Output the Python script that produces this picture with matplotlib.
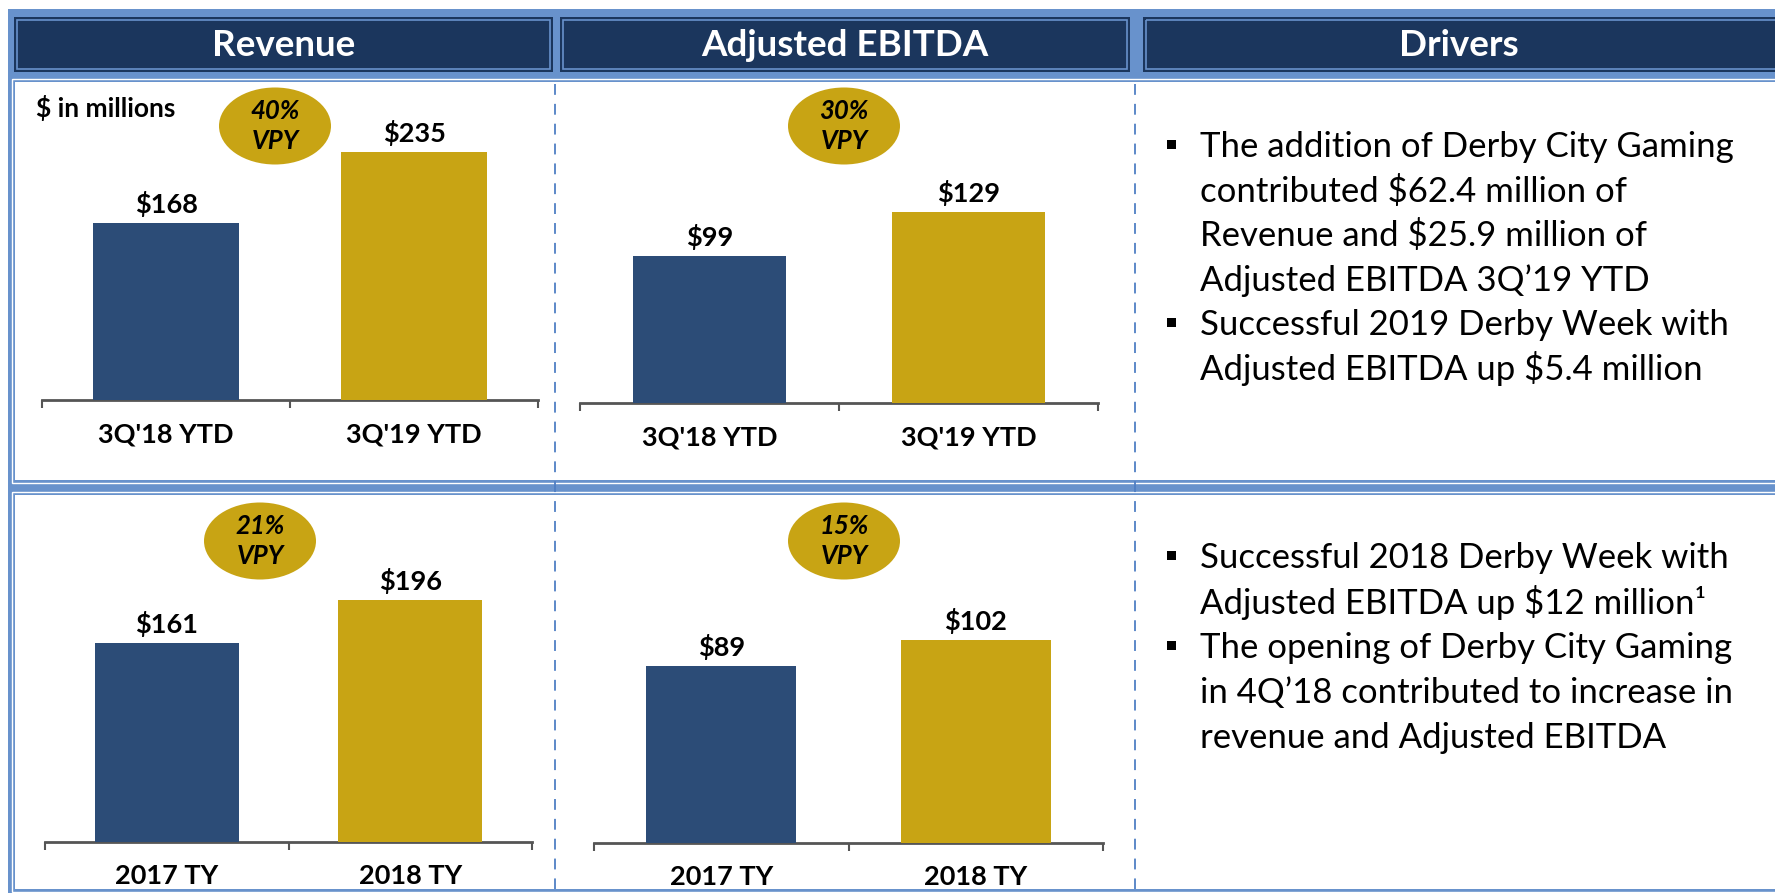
import matplotlib
matplotlib.use("Agg")
import matplotlib.pyplot as plt
from matplotlib.patches import Rectangle, Ellipse

# ---------------- data ----------------
headers = ["Revenue", "Adjusted EBITDA", "Drivers"]
unit_note = "$ in millions"

ytd_categories = ["3Q'18 YTD", "3Q'19 YTD"]
ty_categories = ["2017 TY", "2018 TY"]

revenue_ytd = [168, 235]
ebitda_ytd = [99, 129]
revenue_ty = [161, 196]
ebitda_ty = [89, 102]

vpy_revenue_ytd = "40%"
vpy_ebitda_ytd = "30%"
vpy_revenue_ty = "21%"
vpy_ebitda_ty = "15%"

drivers_top = [
    ["The addition of Derby City Gaming",
     "contributed $62.4 million of",
     "Revenue and $25.9 million of",
     "Adjusted EBITDA 3Q\u201919 YTD"],
    ["Successful 2019 Derby Week with",
     "Adjusted EBITDA up $5.4 million"],
]
drivers_bottom = [
    ["Successful 2018 Derby Week with",
     "Adjusted EBITDA up $12 million\u00b9"],
    ["The opening of Derby City Gaming",
     "in 4Q\u201918 contributed to increase in",
     "revenue and Adjusted EBITDA"],
]

# ---------------- style ----------------
W, H = 1775, 893
NAVY = "#1B365D"
LIGHT = "#6892CC"
BLUE = "#2C4C77"
GOLD = "#C8A414"
DASH = "#4F7FC4"
AXC = "#555555"
FONT = ["Lato", "DejaVu Sans"]
plt.rcParams["font.family"] = FONT

fig = plt.figure(figsize=(W / 100, H / 100), dpi=100)
fig.patch.set_facecolor("white")

bg = fig.add_axes([0, 0, 1, 1], zorder=0)
bg.set_xlim(0, W)
bg.set_ylim(H, 0)
bg.axis("off")

# frame
bg.add_patch(Rectangle((8, 9), W - 8, H - 9, facecolor=LIGHT, edgecolor="none"))
header_boxes = [(14, 553), (560, 1130), (1143, W + 5)]
for (x0, x1), title in zip(header_boxes, headers):
    bg.add_patch(Rectangle((x0, 17), x1 - x0, 55, facecolor=NAVY, edgecolor="none"))
    bg.add_patch(Rectangle((x0 + 3, 20), x1 - x0 - 6, 49, facecolor="none",
                           edgecolor=LIGHT, lw=1.2))
    bg.text((x0 + min(x1, W)) / 2, 45, title, color="white", fontsize=26.5,
            fontweight="bold", ha="center", va="center")

for (y0, y1) in [(82, 480), (495, 889)]:
    bg.add_patch(Rectangle((12, y0 - 3), W, y1 - y0 + 6, facecolor="none",
                           edgecolor="white", lw=1.0))
    bg.add_patch(Rectangle((15, y0), W, y1 - y0, facecolor="white", edgecolor="none"))

for x in [555, 1135]:
    bg.plot([x, x], [84, 889], color=DASH, lw=1.3, linestyle=(0, (6, 5)))

bg.text(36, 108, unit_note, fontsize=19, fontweight="bold", ha="left", va="center")


def vpy_bubble(cx, cy, pct):
    bg.add_patch(Ellipse((cx, cy), 112, 77, facecolor=GOLD, edgecolor="none"))
    bg.text(cx, cy - 15, pct, fontsize=18.5, fontweight="bold", style="italic",
            ha="center", va="center")
    bg.text(cx, cy + 15, "VPY", fontsize=18.5, fontweight="bold", style="italic",
            ha="center", va="center")


vpy_bubble(275, 126, vpy_revenue_ytd)
vpy_bubble(844, 126, vpy_ebitda_ytd)
vpy_bubble(260, 541, vpy_revenue_ty)
vpy_bubble(844, 541, vpy_ebitda_ty)


def chart(x0, x1, base_y, ymax, cats, vals):
    hpx = 300
    ax = fig.add_axes([x0 / W, 1 - base_y / H, (x1 - x0) / W, hpx / H], zorder=2)
    ax.set_facecolor("none")
    ax.bar([0, 1], vals, width=0.59, color=[BLUE, GOLD], zorder=3)
    ax.set_xlim(-0.5, 1.5)
    ax.set_ylim(0, ymax)
    for s in ["top", "left", "right"]:
        ax.spines[s].set_visible(False)
    ax.spines["bottom"].set_color(AXC)
    ax.spines["bottom"].set_linewidth(2.0)
    ax.set_yticks([])
    ax.set_xticks([-0.5, 0.5, 1.5])
    ax.set_xticklabels([])
    ax.tick_params(axis="x", length=6, width=1.5, color=AXC, direction="out")
    for i, (c, v) in enumerate(zip(cats, vals)):
        ax.annotate(f"${v}", xy=(i, v), xytext=(0, 13.5), textcoords="offset points",
                    ha="center", va="center", fontsize=19.5, fontweight="bold")
        ax.annotate(c, xy=(i, 0), xytext=(0, -24.5), textcoords="offset points",
                    ha="center", va="center", fontsize=19.5, fontweight="bold")
    return ax


chart(42, 538, 400, 300 / 1.055, ytd_categories, revenue_ytd)
chart(580, 1098, 403, 300 / 1.483, ytd_categories, ebitda_ytd)
chart(45, 532, 842, 300 / 1.236, ty_categories, revenue_ty)
chart(594, 1103, 843, 300 / 1.99, ty_categories, ebitda_ty)


def drivers(groups, y_start, step):
    y = y_start
    for g in groups:
        for j, line in enumerate(g):
            if j == 0:
                bg.add_patch(Rectangle((1167, y - 7), 9, 9, facecolor="black",
                                       edgecolor="none"))
            bg.text(1200, y, line, fontsize=25, ha="left", va="center")
            y += step


drivers(drivers_top, 147, 44.4)
drivers(drivers_bottom, 558, 45)

fig.savefig("out.png", dpi=100)
